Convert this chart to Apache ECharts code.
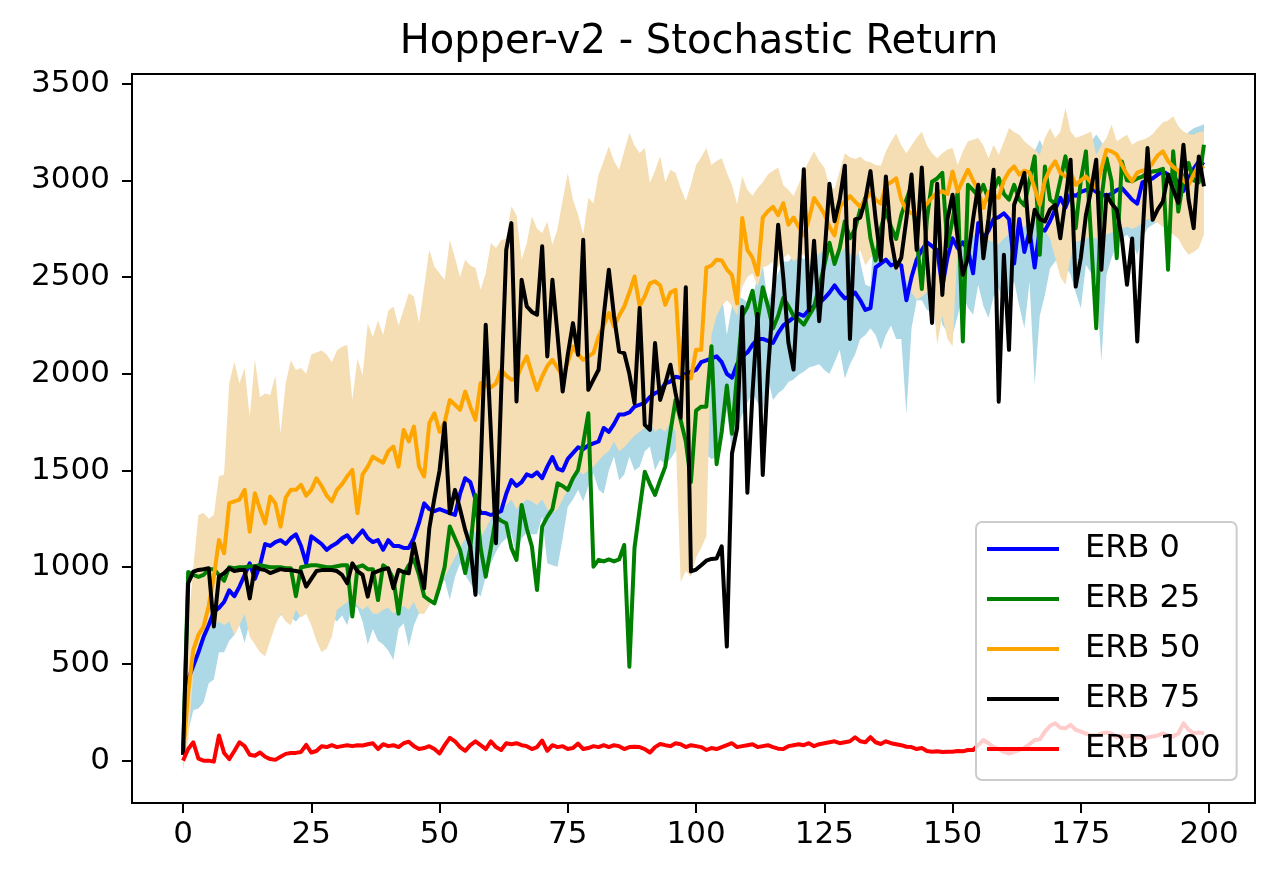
<!DOCTYPE html>
<html>
<head>
<meta charset="utf-8">
<script src="https://cdn.jsdelivr.net/npm/echarts@6/dist/echarts.min.js"></script>
<style>
html,body{margin:0;padding:0;background:#fff;}
#chart{width:1280px;height:885px;}
</style>
</head>
<body>
<div id="chart"></div>
<script>
const titleText = 'Hopper-v2 - Stochastic Return';
const seriesNames = ['ERB 0', 'ERB 25', 'ERB 50', 'ERB 75', 'ERB 100'];
const xTicks = [0, 25, 50, 75, 100, 125, 150, 175, 200];
const yTicks = [0, 500, 1000, 1500, 2000, 2500, 3000, 3500];

const erb0 = [
50,420,490,560,640,700,770,790,820,880,
850,900,960,1020,940,1010,1120,1110,1130,1140,
1120,1150,1170,1110,1020,1160,1140,1120,1090,1110,
1125,1150,1165,1130,1160,1190,1150,1130,1140,1090,
1140,1110,1110,1100,1100,1150,1230,1330,1300,1290,
1300,1290,1280,1270,1380,1460,1440,1350,1280,1280,
1270,1280,1290,1380,1450,1420,1440,1480,1470,1490,
1460,1520,1570,1510,1500,1560,1590,1620,1610,1630,
1640,1650,1720,1700,1740,1790,1790,1800,1830,1840,
1850,1880,1900,1910,1950,1960,1985,1980,2000,2010,
2020,2060,2070,2080,2090,2060,2000,1980,2050,2090,
2110,2150,2180,2180,2170,2160,2210,2250,2270,2290,
2310,2300,2330,2350,2365,2390,2420,2457,2420,2390,
2400,2420,2380,2330,2340,2550,2570,2590,2560,2570,
2560,2380,2500,2590,2640,2680,2660,2640,2450,2600,
2700,2650,2680,2640,2520,2780,2700,2740,2800,2810,
2830,2800,2570,2800,2630,2740,2550,2750,2740,2790,
2850,2910,2860,2930,2920,2940,2950,2960,2940,2930,
2920,2930,2950,2960,2930,2900,2880,2990,3000,3010,
3030,3046,3030,3020,2990,2945,3010,3060,3098,3080];

const erb25 = [
30,975,960,950,960,990,990,960,930,1000,
995,1000,1000,1005,1005,1010,1005,1000,1000,1000,
995,995,850,1000,1005,1010,1010,1005,1000,1000,
1005,1010,1010,745,1000,1010,990,990,830,1010,
990,940,760,960,1010,1040,960,850,830,813,
900,1003,1210,1150,1089,970,1100,1374,1100,951,
1100,1262,1240,1227,1100,1038,1322,1200,1107,882,
1210,1260,1300,1434,1420,1400,1460,1503,1640,1796,
1003,1038,1030,1040,1030,1040,1115,486,1100,1300,
1494,1430,1374,1450,1520,1700,1865,1760,1650,1440,
1810,1830,1830,2143,1533,1700,1939,1690,2000,2300,
2346,2429,2272,2447,2350,2235,2300,2392,2350,2300,
2280,2254,2300,2346,2450,2560,2678,2568,2650,2789,
2700,2750,2850,2909,2700,2586,2750,2845,2760,2697,
2820,2900,2974,2700,2438,2800,2993,3010,3039,2660,
2800,2937,2167,2977,2950,2920,2977,2900,2950,3012,
2930,2900,2977,2900,2870,3000,3124,2615,3072,2900,
2880,3000,3124,2950,2753,3000,3150,2700,2236,2900,
3115,2995,2598,3098,3000,2995,3010,3020,3040,3046,
3050,3060,2538,3150,2839,3000,3090,3000,2990,3184];

const erb50 = [
30,350,572,650,693,800,951,1141,1072,1331,
1340,1350,1400,1184,1382,1300,1227,1365,1330,1210,
1360,1400,1400,1426,1370,1400,1460,1420,1370,1340,
1400,1430,1470,1503,1279,1480,1520,1572,1555,1540,
1600,1624,1520,1710,1650,1727,1520,1469,1745,1796,
1700,1750,1865,1840,1814,1908,1830,1762,1952,1940,
1930,1950,2021,1990,1969,1975,2040,2090,2000,1917,
1986,2040,2072,2030,1986,2060,2141,2100,2072,2090,
2107,2193,2250,2314,2245,2300,2348,2420,2503,2350,
2400,2468,2478,2457,2357,2420,2434,2000,1976,1976,
2124,2124,2549,2560,2590,2586,2540,2510,2364,2805,
2641,2600,2512,2808,2840,2863,2820,2882,2771,2808,
2760,2715,2800,2909,2870,2826,2760,2715,2863,2890,
2919,2890,2863,2900,2937,2900,2880,2974,2990,3011,
2900,2845,2830,2826,2860,2880,2910,2937,2943,2930,
3046,2943,3000,3055,3000,2950,2857,2940,2920,2910,
3000,3046,3072,3030,3050,3040,2960,2874,3000,3060,
3098,3040,3020,3040,2977,3000,3020,2990,2960,3060,
3158,3150,3133,3080,3030,2995,3040,3050,3055,3090,
3130,3150,3100,3070,3050,3000,2977,3030,3081,3060];

const erb75 = [
30,917,977,986,990,995,693,951,969,995,
980,986,986,839,1003,990,985,970,980,990,
985,985,980,975,900,940,980,985,985,985,
980,960,917,1020,980,960,848,970,980,990,
994,891,986,975,969,1124,1000,891,1200,1357,
1500,1745,1279,1400,1300,1193,1107,857,1500,2253,
1700,1124,1900,2641,2779,1857,2486,2348,2320,2305,
2659,2090,2486,2200,1908,2100,2262,2098,2693,1917,
1970,2021,2300,2538,2300,2115,2107,2000,1848,2340,
1736,1710,2159,1865,1950,2047,1900,1773,2447,978,
988,1010,1034,1043,1045,1108,590,1588,1718,2346,
1385,1900,2309,1477,2000,2383,2771,2500,2161,2022,
2500,3057,2327,2688,2272,2600,2983,2789,2900,3076,
2180,2798,2808,2900,3048,2800,2586,3020,2700,2549,
2600,2800,3030,2641,3066,2600,2263,2983,2408,2800,
2926,2700,2512,2600,2800,2977,2598,2800,3055,1856,
2615,2124,2874,2950,3038,2684,2848,2800,2788,2850,
2874,2701,2900,3107,2451,2600,2822,2950,3107,2538,
2926,2880,2848,2700,2460,2700,2167,2700,3167,2796,
2850,2891,3029,2950,2883,3184,2900,2753,3124,2969];

const erb100 = [
0,60,95,10,0,0,-5,130,40,8,
50,95,75,30,25,42,20,8,4,20,
35,39,40,45,81,42,50,74,70,80,
70,75,80,75,80,78,85,90,60,85,
75,80,70,90,98,75,60,65,75,60,
37,80,118,100,70,51,80,100,80,60,
100,70,55,90,85,90,80,75,60,70,
104,51,80,70,75,60,65,88,60,65,
75,70,80,70,80,75,60,70,72,70,
60,42,70,86,80,75,90,85,70,80,
75,70,55,65,60,70,80,90,70,75,
80,85,70,75,80,70,62,60,75,80,
85,80,90,75,85,90,95,100,90,95,
100,121,100,95,121,95,86,100,90,85,
80,72,70,60,65,50,46,48,45,46,
46,50,48,55,55,80,107,90,70,60,
45,37,45,55,65,85,107,110,150,180,
193,170,167,185,160,150,140,130,130,140,
145,141,120,130,125,130,120,115,120,125,
130,141,130,125,140,193,160,141,145,141];

const erb0Lower = [
0,150,260,270,300,400,420,560,560,620,
650,700,610,720,650,700,740,680,720,750,
760,740,720,750,780,760,720,700,760,740,
720,750,700,800,790,720,600,680,620,600,
570,520,680,710,589,700,762,800,830,848,
900,934,830,950,1020,960,917,880,848,950,
1020,1080,1124,1150,1176,1055,1150,1180,1170,1170,
1262,1020,1010,1003,1150,1313,1350,1400,1340,1420,
1486,1400,1380,1500,1572,1450,1480,1572,1500,1520,
1600,1624,1500,1555,1533,1560,1600,1676,1600,1650,
1600,1620,1580,1560,1570,1700,1810,1600,1700,1791,
1850,1902,1850,1800,1976,1865,1900,1920,1958,1970,
1995,2010,2032,2040,2050,2020,2000,2060,2124,1976,
2050,2100,2180,2200,2235,2200,2124,2200,2250,2180,
2180,1791,2235,2380,2380,2330,2320,2374,2253,2216,
2201,2300,2408,2340,2305,2460,2350,2288,2400,2443,
2357,2420,2477,2350,2236,2477,1943,2300,2408,2546,
2580,2615,2560,2512,2420,2339,2564,2520,2477,2063,
2512,2600,2667,2700,2719,2680,2615,2700,2753,2770,
2788,2800,2810,2822,2753,2690,2615,2680,2719,2926];

const erb0Upper = [
40,600,700,800,900,950,1050,1050,1100,1150,
1100,1150,1250,1300,1250,1300,1450,1500,1500,1500,
1450,1500,1550,1450,1300,1500,1500,1500,1450,1450,
1500,1520,1580,1450,1500,1600,1650,1600,1650,1600,
1700,1700,1550,1500,1600,1600,1700,1850,1800,1750,
1700,1650,1700,1600,1750,1950,1950,1800,1700,1600,
1550,1500,1450,1600,1700,1800,1750,1800,1780,1800,
1700,2000,2100,2000,1850,1800,1850,1850,1880,1850,
1800,1900,2050,1900,1900,2100,2100,2030,2150,2150,
2100,2130,2300,2250,2350,2350,2350,2280,2400,2370,
2440,2500,2560,2600,2610,2420,2200,2350,2400,2390,
2370,2400,2500,2560,2370,2450,2520,2580,2580,2610,
2620,2590,2630,2660,2680,2760,2840,2850,2720,2800,
2750,2740,2580,2460,2450,2900,3000,2980,2870,2960,
2940,2970,2770,2800,2900,3050,3000,2900,2700,3000,
3120,3000,2950,2980,2740,3100,3050,3080,3100,3100,
3150,3100,2900,3150,3050,3100,3150,3210,3150,3100,
3150,3200,3150,3200,3200,3180,3150,3200,3237,3200,
3150,3100,3150,3200,3150,3100,3150,3200,3220,3230,
3250,3280,3250,3200,3220,3200,3250,3270,3280,3290];

const erb50Lower = [
-50,100,450,600,650,680,700,720,700,720,
650,700,760,640,600,560,540,620,700,760,
720,700,780,740,760,700,620,560,580,640,
780,800,820,850,800,780,800,760,760,780,
790,760,780,800,780,820,760,760,800,850,
900,950,1000,1050,1100,1150,1200,1180,1150,1200,
1250,1280,1300,1320,1350,1300,1330,1350,1340,1320,
1350,1300,1280,1300,1350,1400,1450,1500,1480,1500,
1520,1550,1580,1600,1650,1600,1620,1650,1680,1700,
1720,1750,1700,1720,1700,1750,1700,923,980,950,
1050,1100,1160,2200,2300,2350,2380,2350,2300,2450,
2500,2520,2450,2550,2560,2580,2550,2600,2620,2580,
2600,2620,2560,2600,2620,2640,2600,2580,2620,2650,
2620,2600,2640,2560,2600,2620,2600,2580,2600,2560,
2500,2480,2420,2383,2400,2420,2440,2150,2300,2180,
2143,2684,2690,2700,2720,2710,2700,2690,2680,2670,
2700,2720,2740,2750,2760,2780,2790,2760,2740,2700,
2600,2500,2460,2600,2680,2690,2700,2710,2700,2700,
2720,2730,2740,2750,2760,2750,2760,2780,2800,2790,
2780,2760,2740,2720,2700,2650,2615,2630,2650,2720];

const erb50Upper = [
50,700,1000,1270,1280,1250,1270,1470,1480,1950,
2064,1950,2030,1778,2075,1880,1898,1890,1993,1690,
1950,2070,2020,2030,2000,2100,2110,2120,2100,2060,
2120,2140,2150,1865,2080,1990,2260,2190,2275,2200,
2325,2348,2250,2331,2417,2400,2262,2450,2641,2555,
2520,2486,2693,2600,2500,2590,2560,2547,2434,2520,
2676,2650,2690,2700,2866,2820,2590,2676,2814,2750,
2728,2788,2667,2750,2900,3038,2900,2823,2720,2910,
2880,3030,3100,3176,3100,3055,3150,3246,3180,3142,
3167,2986,3050,3125,2990,3055,3040,2960,2893,2980,
3080,3120,3167,3080,3100,3115,3040,2976,2876,3020,
2950,2920,2960,2990,3030,3050,3066,2975,2950,2919,
2980,3048,3100,3150,3100,3066,2974,2955,3050,3140,
3120,3110,3122,3100,3094,3080,3075,3150,3200,3242,
3180,3140,3180,3220,3251,3180,3140,3115,3140,3160,
3167,3080,3150,3202,3210,3219,3180,3115,3184,3133,
3200,3271,3250,3236,3202,3180,3160,3133,3220,3271,
3219,3250,3374,3253,3219,3230,3240,3253,3133,3180,
3219,3288,3202,3220,3236,3184,3202,3210,3219,3240,
3271,3300,3310,3331,3280,3253,3240,3236,3250,3253];

const steps = erb0.map((_, i) => i);
const pairs = arr => steps.map((x, i) => [x, arr[i]]);

const FONT = 'DejaVu Sans';
const lineColors = ['#0000ff', '#008000', '#ffa500', '#000000', '#ff0000'];
const lineData = [erb0, erb25, erb50, erb75, erb100];

function bandSeries(name, lower, upper, color) {
  return {
    name, type:'custom', coordinateSystem:'cartesian2d', clip:true, silent:true, z:1,
    data:[[steps[0], lower[0]]],
    encode:{x:0, y:1},
    renderItem: function (params, api) {
      const pts = [];
      for (let i = 0; i < steps.length; i++) pts.push(api.coord([steps[i], upper[i]]));
      for (let i = steps.length - 1; i >= 0; i--) pts.push(api.coord([steps[i], lower[i]]));
      return {type:'polygon', shape:{points:pts}, style:{fill:color, stroke:null}};
    }
  };
}

const lineSeries = seriesNames.map((name, k) => ({
  name, type:'line', data:pairs(lineData[k]), symbol:'none', showSymbol:false, z:3,
  color: lineColors[k],
  lineStyle:{color:lineColors[k], width:4, join:'round'},
  emphasis:{disabled:true}
}));

const chart = echarts.init(document.getElementById('chart'), null, {renderer:'canvas'});
chart.setOption({
  animation:false,
  backgroundColor:'#ffffff',
  title:{text:titleText, left:694, top:18, textAlign:'center',
    textStyle:{fontFamily:FONT, fontSize:40, fontWeight:'normal', color:'#000'}},
  grid:{left:132, right:25, top:74, bottom:82, show:true, borderColor:'#000', borderWidth:2, backgroundColor:'transparent'},
  legend:{
    data:seriesNames, orient:'vertical', left:976, top:522,
    padding:[9,16,13,11], itemWidth:72, itemHeight:4, itemGap:14,
    icon:'rect',
    backgroundColor:'rgba(255,255,255,0.8)', borderColor:'#cccccc', borderWidth:2, borderRadius:6,
    textStyle:{fontFamily:FONT, fontSize:32, color:'#000', lineHeight:36, padding:[0,0,0,21]},
    selectedMode:false
  },
  xAxis:{type:'value', min:-9.95, max:208.95,
    axisLine:{show:true, onZero:false, lineStyle:{color:'#000', width:2}},
    axisTick:{show:true, customValues:xTicks, length:10, lineStyle:{color:'#000', width:2}},
    axisLabel:{customValues:xTicks, fontFamily:FONT, fontSize:31, color:'#000', margin:16,
      formatter: v => String(v)},
    splitLine:{show:false}},
  yAxis:{type:'value', min:-219, max:3550,
    axisLine:{show:true, onZero:false, lineStyle:{color:'#000', width:2}},
    axisTick:{show:true, customValues:yTicks, length:10, lineStyle:{color:'#000', width:2}},
    axisLabel:{customValues:yTicks, fontFamily:FONT, fontSize:31, color:'#000', margin:22,
      formatter: v => String(v)},
    splitLine:{show:false}},
  series: [
    bandSeries('ERB 0 band', erb0Lower, erb0Upper, '#add8e6'),
    bandSeries('ERB 50 band', erb50Lower, erb50Upper, '#f5deb3')
  ].concat(lineSeries)
});
</script>
</body>
</html>
